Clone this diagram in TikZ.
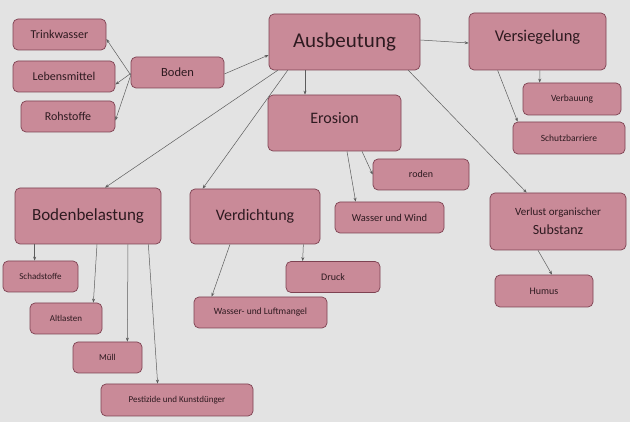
\documentclass[tikz,border=0pt]{standalone}
\usepackage{fontspec}
\setmainfont{Carlito}
\usepackage{tikz}
\usetikzlibrary{arrows.meta}
\usetikzlibrary{backgrounds}

\definecolor{wall}{HTML}{E3E3E3}
\definecolor{boxfill}{HTML}{C98A98}
\definecolor{boxline}{HTML}{7E4252}
\definecolor{boxtext}{HTML}{2E1A20}
\definecolor{linkgray}{HTML}{5C5C5C}

\newcommand{\fsz}[1]{\fontsize{#1}{#1}\selectfont}

\begin{document}
\begin{tikzpicture}[x=1pt,y=-1pt]
		\fill[wall] (0,0) rectangle (630,422);

		\begin{scope}[every node/.style={draw=boxline,fill=boxfill,rounded corners=5pt,
		              text=boxtext,inner sep=0pt,line width=0.7pt,align=center}]
			\node[minimum width=93pt,minimum height=31pt,font=\fsz{12}] (trinkwasser) at (59.5,34.5) {Trinkwasser};
			\node[minimum width=102pt,minimum height=31pt,font=\fsz{12}] (lebensmittel) at (64,76.5) {Lebensmittel};
			\node[minimum width=94pt,minimum height=31pt,font=\fsz{12}] (rohstoffe) at (68,116.5) {Rohstoffe};
			\node[minimum width=93pt,minimum height=31pt,font=\fsz{12.5}] (boden) at (177.5,72.5) {Boden};
			\node[minimum width=151pt,minimum height=56pt,font=\fsz{21}] (ausbeutung) at (344.5,42) {Ausbeutung};
			\node[minimum width=137pt,minimum height=57pt,font=\fsz{16.5}] (versiegelung) at (537.5,41.5) {Versiegelung\\[-6pt]};
			\node[minimum width=98pt,minimum height=32pt,font=\fsz{9.5}] (verbauung) at (572,99) {Verbauung};
			\node[minimum width=112pt,minimum height=32pt,font=\fsz{9.5}] (schutzbarriere) at (569,138) {Schutzbarriere};
			\node[minimum width=133pt,minimum height=56pt,font=\fsz{16}] (erosion) at (334.5,123) {Erosion\\[-6pt]};
			\node[minimum width=96pt,minimum height=31pt,font=\fsz{10}] (roden) at (421,174.5) {roden};
			\node[minimum width=109pt,minimum height=31pt,font=\fsz{10.5}] (wasserwind) at (389.5,217.5) {Wasser und Wind};
			\node[minimum width=136pt,minimum height=57pt,font=\fsz{11}] (verlust) at (558,221.5)
				{Verlust organischer\\[6pt]{\fsz{14}Substanz}};
			\node[minimum width=98pt,minimum height=32pt,font=\fsz{10}] (humus) at (544,291) {Humus};
			\node[minimum width=146pt,minimum height=56pt,font=\fsz{17}] (bodenbelastung) at (88,216) {Bodenbelastung};
			\node[minimum width=130pt,minimum height=55pt,font=\fsz{16}] (verdichtung) at (255,216.5) {Verdichtung};
			\node[minimum width=75pt,minimum height=31pt,font=\fsz{9}] (schadstoffe) at (40.5,276.5) {Schadstoffe};
			\node[minimum width=72pt,minimum height=31pt,font=\fsz{9}] (altlasten) at (66,318.5) {Altlasten};
			\node[minimum width=69pt,minimum height=31pt,font=\fsz{9}] (muell) at (107.5,357.5) {Müll};
			\node[minimum width=152pt,minimum height=32pt,font=\fsz{9}] (pestizide) at (177,400) {Pestizide und Kunstdünger};
			\node[minimum width=94pt,minimum height=31pt,font=\fsz{10}] (druck) at (333,277) {Druck};
			\node[minimum width=133pt,minimum height=31pt,font=\fsz{9.5}] (luftmangel) at (260.5,312.5) {Wasser- und Luftmangel};
		\end{scope}

		\begin{scope}[>={Stealth[length=4pt,width=3pt]},
		              every edge/.style={draw=linkgray,line width=0.5pt,->}]
			\path ([yshift=-2.5pt]boden.west) edge ([yshift=-4.5pt]trinkwasser.east);
			\path ([yshift=-1pt]boden.west) edge ([yshift=-8pt]lebensmittel.east);
			\path ([yshift=-3pt]boden.west) edge ([yshift=-4pt]rohstoffe.east);
			\path ([yshift=-1.5pt]boden.east) edge ([yshift=-13pt]ausbeutung.west);
			\path ([yshift=2pt]ausbeutung.east) edge ([yshift=-1.5pt]versiegelung.west);
			\path ([xshift=-39.5pt]ausbeutung.south) edge ([xshift=-29.5pt]erosion.north);
			\path ([xshift=9pt]ausbeutung.south west) edge ([xshift=17pt]bodenbelastung.north);
			\path ([xshift=19pt]ausbeutung.south west) edge ([xshift=13pt]verdichtung.north west);
			\path ([xshift=-12pt]ausbeutung.south east) edge ([xshift=37pt]verlust.north west);
			\path ([xshift=2.5pt]versiegelung.south) edge ([xshift=17pt]verbauung.north west);
			\path ([xshift=29pt]versiegelung.south west) edge ([xshift=5pt]schutzbarriere.north west);
			\path ([xshift=27.5pt]erosion.south) edge (roden.west);
			\path ([xshift=12.5pt]erosion.south) edge ([xshift=21pt]wasserwind.north west);
			\path ([xshift=20pt]bodenbelastung.south west) edge ([xshift=32pt]schadstoffe.north west);
			\path ([xshift=9pt]bodenbelastung.south) edge ([xshift=-9pt]altlasten.north east);
			\path ([xshift=40pt]bodenbelastung.south) edge ([xshift=-15pt]muell.north east);
			\path ([xshift=-13pt]bodenbelastung.south east) edge ([xshift=57pt]pestizide.north west);
			\path ([xshift=-25pt]verdichtung.south) edge ([xshift=18pt]luftmangel.north west);
			\path ([xshift=-17pt]verdichtung.south east) edge ([xshift=17pt]druck.north west);
			\path ([xshift=-20pt]verlust.south) edge ([xshift=8pt]humus.north);
		\end{scope}
\end{tikzpicture}
\end{document}
